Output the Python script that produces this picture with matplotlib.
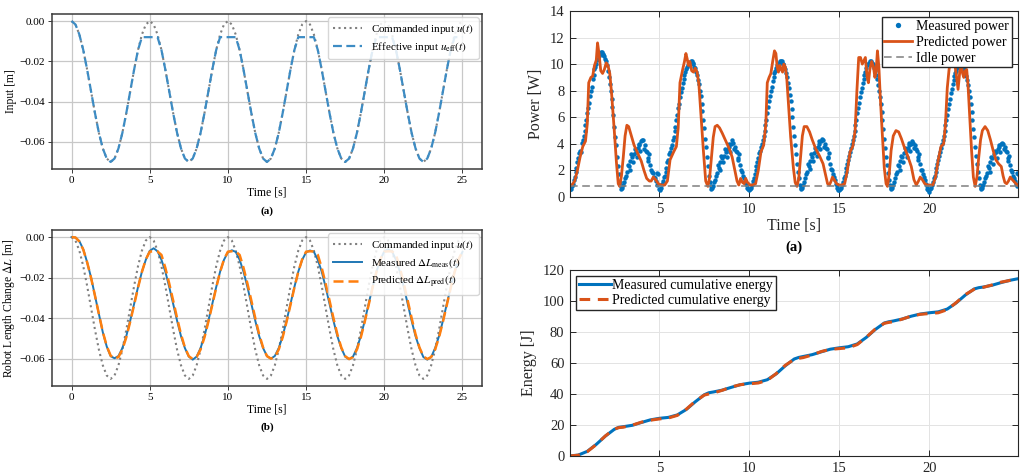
import numpy as np
import matplotlib.pyplot as plt
from matplotlib.ticker import FuncFormatter

plt.rcParams['font.family'] = ['Liberation Serif', 'DejaVu Serif']
plt.rcParams['mathtext.fontset'] = 'stix'

# ---- (a)/(b) left: input and robot length, sampled every 0.25 s ----
t_in = np.linspace(0, 25, 101)

u_cmd = [0.0, -0.0017, -0.0067, -0.0144, -0.0242, -0.0350, -0.0458, -0.0556, -0.0633, -0.0683,
         -0.0700, -0.0683, -0.0633, -0.0556, -0.0458, -0.0350, -0.0242, -0.0144, -0.0067, -0.0017,
         0.0, -0.0017, -0.0067, -0.0144, -0.0242, -0.0350, -0.0458, -0.0556, -0.0633, -0.0683,
         -0.0700, -0.0683, -0.0633, -0.0556, -0.0458, -0.0350, -0.0242, -0.0144, -0.0067, -0.0017,
         0.0, -0.0017, -0.0067, -0.0144, -0.0242, -0.0350, -0.0458, -0.0556, -0.0633, -0.0683,
         -0.0700, -0.0683, -0.0633, -0.0556, -0.0458, -0.0350, -0.0242, -0.0144, -0.0067, -0.0017,
         0.0, -0.0017, -0.0067, -0.0144, -0.0242, -0.0350, -0.0458, -0.0556, -0.0633, -0.0683,
         -0.0700, -0.0683, -0.0633, -0.0556, -0.0458, -0.0350, -0.0242, -0.0144, -0.0067, -0.0017,
         0.0, -0.0017, -0.0067, -0.0144, -0.0242, -0.0350, -0.0458, -0.0556, -0.0633, -0.0683,
         -0.0700, -0.0683, -0.0633, -0.0556, -0.0458, -0.0350, -0.0242, -0.0144, -0.0067, -0.0017,
         0.0]

u_eff = [0.0, -0.0017, -0.0067, -0.0144, -0.0242, -0.0350, -0.0458, -0.0556, -0.0633, -0.0683,
         -0.0700, -0.0683, -0.0633, -0.0556, -0.0458, -0.0350, -0.0242, -0.0144, -0.0080, -0.0080,
         -0.0080, -0.0080, -0.0080, -0.0144, -0.0242, -0.0350, -0.0458, -0.0556, -0.0633, -0.0683,
         -0.0700, -0.0683, -0.0633, -0.0556, -0.0458, -0.0350, -0.0242, -0.0144, -0.0080, -0.0080,
         -0.0080, -0.0080, -0.0080, -0.0144, -0.0242, -0.0350, -0.0458, -0.0556, -0.0633, -0.0683,
         -0.0700, -0.0683, -0.0633, -0.0556, -0.0458, -0.0350, -0.0242, -0.0144, -0.0080, -0.0080,
         -0.0080, -0.0080, -0.0080, -0.0144, -0.0242, -0.0350, -0.0458, -0.0556, -0.0633, -0.0683,
         -0.0700, -0.0683, -0.0633, -0.0556, -0.0458, -0.0350, -0.0242, -0.0144, -0.0080, -0.0080,
         -0.0080, -0.0080, -0.0080, -0.0144, -0.0242, -0.0350, -0.0458, -0.0556, -0.0633, -0.0683,
         -0.0700, -0.0683, -0.0633, -0.0556, -0.0458, -0.0350, -0.0242, -0.0144, -0.0080, -0.0080,
         -0.0080]

dl_meas = [0.0, -0.0002, -0.0020, -0.0060, -0.0125, -0.0200, -0.0290, -0.0380, -0.0470, -0.0540,
           -0.0588, -0.0598, -0.0587, -0.0548, -0.0489, -0.0413, -0.0330, -0.0247, -0.0171, -0.0112,
           -0.0068, -0.0055, -0.0070, -0.0112, -0.0171, -0.0247, -0.0330, -0.0413, -0.0489, -0.0548,
           -0.0590, -0.0605, -0.0590, -0.0548, -0.0489, -0.0413, -0.0330, -0.0247, -0.0171, -0.0112,
           -0.0075, -0.0065, -0.0073, -0.0112, -0.0171, -0.0247, -0.0330, -0.0413, -0.0489, -0.0548,
           -0.0587, -0.0600, -0.0587, -0.0548, -0.0489, -0.0413, -0.0330, -0.0247, -0.0171, -0.0112,
           -0.0075, -0.0066, -0.0073, -0.0112, -0.0171, -0.0247, -0.0330, -0.0413, -0.0489, -0.0548,
           -0.0590, -0.0603, -0.0590, -0.0548, -0.0489, -0.0413, -0.0330, -0.0247, -0.0171, -0.0112,
           -0.0070, -0.0060, -0.0072, -0.0112, -0.0171, -0.0247, -0.0330, -0.0413, -0.0489, -0.0548,
           -0.0592, -0.0605, -0.0592, -0.0548, -0.0489, -0.0413, -0.0330, -0.0247, -0.0171, -0.0112,
           -0.0073]

dl_pred = [0.0, -0.0002, -0.0022, -0.0062, -0.0125, -0.0202, -0.0290, -0.0380, -0.0468, -0.0538,
           -0.0585, -0.0600, -0.0592, -0.0555, -0.0495, -0.0418, -0.0335, -0.0250, -0.0172, -0.0110,
           -0.0072, -0.0070, -0.0071, -0.0088, -0.0152, -0.0230, -0.0314, -0.0400, -0.0480, -0.0545,
           -0.0588, -0.0602, -0.0592, -0.0555, -0.0495, -0.0418, -0.0335, -0.0250, -0.0172, -0.0110,
           -0.0072, -0.0070, -0.0071, -0.0088, -0.0152, -0.0230, -0.0314, -0.0400, -0.0480, -0.0545,
           -0.0588, -0.0600, -0.0592, -0.0555, -0.0495, -0.0418, -0.0335, -0.0250, -0.0172, -0.0110,
           -0.0072, -0.0070, -0.0071, -0.0088, -0.0152, -0.0230, -0.0314, -0.0400, -0.0480, -0.0545,
           -0.0588, -0.0602, -0.0592, -0.0555, -0.0495, -0.0418, -0.0335, -0.0250, -0.0172, -0.0110,
           -0.0072, -0.0070, -0.0071, -0.0088, -0.0152, -0.0230, -0.0314, -0.0400, -0.0480, -0.0545,
           -0.0588, -0.0602, -0.0592, -0.0555, -0.0495, -0.0418, -0.0335, -0.0250, -0.0172, -0.0110,
           -0.0072]

# ---- right (a): power, measured every 0.1 s (two interleaved sample sets) ----
p_meas_t = np.round(np.arange(250) * 0.1, 2)
p_meas = [0.5, 0.6, 1.0, 1.5, 2.2, 2.9, 3.5, 4.1, 4.6, 5.4, 6.3, 7.1, 8.0, 8.9, 9.6, 10.0, 10.4, 10.8, 10.9, 10.7,
          10.4, 9.9, 9.0, 8.0, 6.8, 5.3, 3.9, 2.3, 1.1, 0.6, 0.9, 1.4, 1.9, 2.3, 2.7, 3.0, 3.2, 3.4, 3.7, 3.9,
          4.2, 4.3, 3.9, 3.4, 2.9, 2.4, 1.9, 1.5, 1.2, 0.9,
          0.6, 0.7, 1.2, 1.6, 2.2, 2.8, 3.4, 3.9, 4.5, 5.3, 6.2, 7.0, 7.9, 8.6, 9.2, 9.6, 9.9, 10.1, 10.2, 10.0,
          9.7, 9.2, 8.5, 7.6, 6.5, 5.2, 3.8, 2.3, 1.1, 0.6, 0.8, 1.3, 1.8, 2.2, 2.6, 2.9, 3.1, 3.4, 3.6, 3.8,
          4.0, 4.1, 3.8, 3.4, 2.9, 2.4, 1.9, 1.4, 1.0, 0.7,
          0.5, 0.7, 1.2, 1.7, 2.3, 2.9, 3.5, 4.0, 4.6, 5.4, 6.3, 7.2, 8.0, 8.7, 9.3, 9.7, 10.0, 10.2, 10.2, 10.0,
          9.6, 9.0, 8.2, 7.2, 6.0, 4.6, 3.2, 1.9, 0.9, 0.6, 0.9, 1.4, 1.9, 2.3, 2.7, 3.0, 3.3, 3.5, 3.8, 4.0,
          4.2, 4.3, 4.0, 3.6, 3.0, 2.5, 2.0, 1.5, 1.0, 0.7,
          0.5, 0.7, 1.1, 1.6, 2.2, 2.8, 3.4, 4.0, 4.6, 5.4, 6.3, 7.1, 7.9, 8.6, 9.2, 9.7, 10.0, 10.2, 10.1, 9.9,
          9.5, 8.9, 8.0, 7.0, 5.8, 4.4, 3.0, 1.8, 0.9, 0.6, 0.9, 1.4, 1.9, 2.3, 2.7, 3.0, 3.3, 3.5, 3.7, 3.9,
          4.0, 4.1, 3.9, 3.5, 3.0, 2.5, 2.0, 1.5, 1.0, 0.6,
          0.4, 0.7, 1.1, 1.6, 2.2, 2.8, 3.4, 4.0, 4.6, 5.4, 6.2, 7.0, 7.8, 8.5, 9.1, 9.5, 9.8, 10.0, 10.0, 9.8,
          9.4, 8.8, 8.0, 7.0, 5.8, 4.5, 3.1, 1.9, 0.9, 0.6, 0.9, 1.4, 1.8, 2.2, 2.6, 2.9, 3.2, 3.4, 3.6, 3.8,
          4.0, 4.0, 3.8, 3.4, 2.9, 2.4, 1.9, 1.4, 1.0, 0.8]
p_meas2_t = np.round(np.arange(250) * 0.1 + 0.05, 2)
p_meas2 = [0.6, 0.8, 1.3, 1.9, 2.6, 3.3, 3.4, 4.3, 5.0, 5.8, 6.7, 7.6, 8.3, 9.2, 9.8, 10.3, 10.6, 10.9, 10.8, 10.6,
           10.2, 9.5, 8.5, 7.4, 6.2, 4.5, 3.0, 1.7, 0.8, 0.7, 1.1, 1.6, 2.4, 2.0, 3.2, 2.6, 3.6, 3.0, 4.0, 3.5,
           4.3, 3.6, 3.5, 2.7, 3.2, 2.0, 1.8, 1.4, 1.8, 1.7,
           0.5, 1.0, 1.5, 1.9, 2.6, 3.2, 3.7, 4.3, 5.0, 5.8, 6.7, 7.5, 8.2, 8.9, 9.4, 9.8, 10.0, 10.2, 10.1, 9.8,
           9.4, 8.8, 8.0, 7.0, 5.8, 4.4, 3.0, 1.6, 0.8, 0.7, 1.1, 1.6, 2.4, 2.0, 3.1, 2.6, 3.6, 3.0, 4.0, 3.4,
           4.3, 3.6, 3.5, 2.8, 3.2, 2.0, 1.6, 1.2, 0.9, 0.6,
           0.6, 0.9, 1.4, 2.0, 2.6, 3.3, 3.8, 4.3, 5.0, 5.8, 6.8, 7.6, 8.3, 9.0, 9.5, 9.9, 10.1, 10.2, 10.0, 9.8,
           9.3, 8.6, 7.7, 6.6, 5.3, 3.9, 2.5, 1.4, 0.7, 0.7, 1.1, 1.7, 2.5, 2.1, 3.2, 2.7, 3.7, 3.1, 4.2, 3.6,
           4.4, 3.8, 3.7, 2.9, 3.3, 2.1, 1.7, 1.3, 0.9, 0.5,
           0.6, 0.9, 1.4, 1.9, 2.5, 3.1, 3.7, 4.3, 5.0, 5.8, 6.7, 7.5, 8.2, 8.9, 9.4, 9.9, 10.1, 10.2, 10.0, 9.7,
           9.2, 8.4, 7.5, 6.4, 5.1, 3.7, 2.4, 1.3, 0.7, 0.7, 1.1, 1.7, 2.4, 2.0, 3.1, 2.6, 3.7, 3.0, 4.1, 3.5,
           4.2, 3.7, 3.6, 2.8, 3.2, 2.0, 1.7, 1.3, 0.8, 0.5,
           0.6, 0.9, 1.4, 1.9, 2.5, 3.1, 3.7, 4.3, 5.0, 5.8, 6.6, 7.4, 8.1, 8.8, 9.3, 9.7, 9.9, 10.0, 9.9, 9.6,
           9.1, 8.4, 7.5, 6.4, 5.1, 3.8, 2.5, 1.4, 0.7, 0.7, 1.1, 1.6, 2.3, 1.9, 3.0, 2.5, 3.5, 2.9, 3.9, 3.4,
           4.1, 3.6, 3.5, 2.7, 3.1, 2.0, 1.6, 1.2, 1.8, 1.7]

p_pred_t = [0.0, 0.15, 0.3, 0.45, 0.6, 0.75, 0.9, 1.0, 1.08, 1.2, 1.3, 1.4, 1.5, 1.57, 1.65, 1.75, 1.85, 1.95,
            2.05, 2.15, 2.25, 2.35, 2.5, 2.62, 2.72, 2.8, 2.9, 3.0, 3.1, 3.2, 3.3, 3.45, 3.6, 3.8, 4.0, 4.15,
            4.3, 4.45, 4.55, 4.67, 4.8, 4.95, 5.1, 5.3, 5.45, 5.6, 5.8, 5.95, 6.05, 6.15, 6.3, 6.4, 6.48, 6.55,
            6.62, 6.7, 6.8, 6.9, 7.0, 7.1, 7.2, 7.3, 7.45, 7.58, 7.7, 7.8, 7.9, 8.0, 8.1, 8.22, 8.35, 8.5, 8.7,
            8.9, 9.05, 9.2, 9.32, 9.42, 9.52, 9.62, 9.72, 9.8, 9.9, 10.05, 10.2, 10.35, 10.5, 10.65, 10.8,
            10.92, 11.0, 11.1, 11.2, 11.3, 11.4, 11.48, 11.55, 11.62, 11.7, 11.78, 11.85, 11.92, 12.0, 12.08,
            12.18, 12.3, 12.45, 12.55, 12.65, 12.75, 12.85, 12.95, 13.05, 13.2, 13.35, 13.5, 13.7, 13.9, 14.1,
            14.25, 14.35, 14.45, 14.55, 14.62, 14.72, 14.85, 15.0, 15.15, 15.3, 15.45, 15.6, 15.75, 15.88,
            15.98, 16.08, 16.18, 16.28, 16.38, 16.45, 16.55, 16.62, 16.7, 16.8, 16.9, 16.98, 17.05, 17.12,
            17.2, 17.28, 17.38, 17.5, 17.6, 17.68, 17.78, 17.88, 18.0, 18.15, 18.3, 18.45, 18.6, 18.8, 19.0,
            19.15, 19.28, 19.4, 19.5, 19.62, 19.75, 19.9, 20.05, 20.2, 20.35, 20.5, 20.65, 20.8, 20.9, 21.0,
            21.1, 21.2, 21.3, 21.4, 21.5, 21.6, 21.7, 21.78, 21.85, 21.92, 22.0, 22.08, 22.15, 22.25, 22.35,
            22.45, 22.55, 22.65, 22.75, 22.85, 22.95, 23.1, 23.25, 23.4, 23.55, 23.7, 23.85, 24.0, 24.1, 24.2,
            24.3, 24.4, 24.5, 24.62, 24.75, 24.9]
p_pred = [0.8, 0.9, 1.2, 2.0, 3.0, 3.8, 4.2, 5.5, 8.6, 9.0, 9.1, 9.9, 10.3, 11.6, 10.8, 9.5, 9.3, 9.6,
          10.1, 9.9, 9.3, 7.8, 5.0, 2.6, 1.0, 0.8, 1.6, 3.0, 4.6, 5.4, 5.3, 4.6, 3.9, 3.3, 2.7, 2.0,
          1.4, 1.2, 1.2, 1.5, 1.3, 1.0, 0.9, 0.9, 1.2, 2.8, 3.4, 3.8, 5.2, 8.6, 9.6, 10.2, 10.8, 10.4,
          9.9, 10.2, 9.5, 9.4, 9.7, 9.4, 8.5, 6.5, 3.5, 1.2, 0.8, 1.5, 3.0, 4.5, 5.3, 5.4, 5.2, 4.8, 4.2,
          3.6, 3.0, 2.0, 1.2, 0.9, 1.4, 1.1, 1.0, 1.4, 1.1, 0.9, 0.9, 1.0, 2.0, 3.4, 3.9,
          5.5, 8.6, 9.0, 9.3, 10.2, 11.0, 10.8, 9.8, 9.4, 9.9, 9.6, 9.4, 10.0, 9.8, 9.0,
          7.0, 4.5, 2.2, 1.1, 0.8, 1.4, 3.0, 4.6, 5.3, 5.3, 4.9, 4.3, 3.6, 3.1, 2.5,
          1.6, 1.0, 0.9, 1.2, 1.5, 1.3, 1.0, 0.9, 0.9, 1.0, 2.0, 3.4, 3.8, 5.0,
          8.0, 10.5, 10.5, 10.0, 10.3, 10.5, 9.0, 8.6, 9.6, 10.2, 9.8, 9.0, 9.5, 11.0,
          9.8, 7.5, 5.0, 2.2, 1.0, 0.8, 1.8, 3.5, 4.6, 5.0, 4.9, 4.4, 3.8, 3.1, 2.3,
          1.3, 0.9, 1.2, 1.5, 1.3, 1.0, 0.9, 0.9, 0.9, 1.5, 2.8, 3.8, 4.0, 5.5, 8.2,
          9.6, 10.3, 11.0, 10.2, 9.2, 8.1, 9.5, 10.0, 9.3, 9.0, 9.5, 9.6, 8.5, 6.0, 3.5,
          1.5, 0.8, 1.5, 3.0, 4.3, 5.0, 5.3, 5.0, 4.3, 3.5, 2.8, 2.5, 2.3, 1.6, 1.1,
          1.0, 1.2, 1.5, 1.3, 1.1, 0.9]
idle_power = 0.8

# ---- right (b): cumulative energy ----
e_t = [0, 0.5, 1.0, 1.5, 2.0, 2.5, 2.75, 3.0, 3.5, 4.0, 4.5, 5.0, 5.5, 6.0, 6.5, 7.0, 7.5, 7.75, 8.0, 8.5,
       9.0, 9.5, 10.0, 10.5, 11.0, 11.5, 12.0, 12.5, 12.75, 13.0, 13.5, 14.0, 14.5, 15.0, 15.5, 16.0, 16.5,
       17.0, 17.5, 17.75, 18.0, 18.5, 19.0, 19.5, 20.0, 20.5, 21.0, 21.5, 22.0, 22.5, 22.75, 23.0, 23.5,
       24.0, 24.5, 24.9]
e_meas = [0, 0.6, 3.0, 7.5, 12.8, 17.2, 18.5, 18.9, 19.8, 21.6, 23.3, 24.3, 24.9, 26.5, 30.0, 35.0, 39.5,
          40.8, 41.3, 42.5, 44.3, 46.0, 47.0, 47.6, 49.2, 53.0, 58.2, 62.6, 63.6, 64.2, 65.4, 67.2, 68.9,
          69.8, 70.5, 72.3, 76.5, 81.6, 85.8, 86.6, 87.1, 88.4, 90.2, 91.6, 92.4, 93.0, 94.8, 98.8, 103.8,
          107.8, 108.6, 109.0, 110.2, 111.9, 113.4, 114.3]
e_pred = [0, 0.5, 2.8, 7.4, 12.9, 17.4, 18.3, 18.6, 19.9, 21.8, 23.1, 23.9, 24.5, 26.2, 30.2, 35.3, 39.3,
          40.0, 40.6, 42.4, 44.5, 46.0, 46.6, 47.1, 48.8, 53.2, 58.5, 62.4, 63.0, 63.5, 65.2, 67.4, 68.8,
          69.3, 69.8, 71.9, 76.6, 81.9, 85.6, 86.2, 86.6, 88.3, 90.3, 91.4, 91.9, 92.4, 94.4, 99.0, 104.1,
          107.6, 108.3, 108.8, 110.4, 112.2, 113.3, 114.0]

ML_BLUE = '#0072BD'
ML_ORANGE = '#D95319'

fig = plt.figure(figsize=(10.27, 4.76), dpi=100)
W, H = 1027, 476


def px_axes(x0, y0, x1, y1):
    return fig.add_axes([x0 / W, 1 - y1 / H, (x1 - x0) / W, (y1 - y0) / H])


minus_fmt = FuncFormatter(lambda v, pos: f'{v:.2f}'.replace('-', '\u2212') if abs(v) > 1e-9 else '0.00')


def style_left(ax, ylabel):
    ax.grid(True, color='#c8c8c8', lw=0.9)
    ax.set_axisbelow(True)
    for s in ax.spines.values():
        s.set_color('#3a3a3a')
        s.set_linewidth(1.1)
    ax.tick_params(labelsize=8, length=3, width=0.7, color='#3a3a3a', pad=2)
    ax.set_xticks([0, 5, 10, 15, 20, 25])
    ax.set_yticks([0, -0.02, -0.04, -0.06])
    ax.yaxis.set_major_formatter(minus_fmt)
    ax.set_xlabel('Time [s]', fontsize=8.5, labelpad=1)
    ax.set_ylabel(ylabel, fontsize=8.3, labelpad=2)
    ax.legend(loc='upper right', fontsize=8, framealpha=0.85, edgecolor='#d0d0d0',
              handlelength=2.6, borderpad=0.45, labelspacing=0.35, borderaxespad=0.3)


# (a) left top
ax1 = px_axes(52, 14, 482, 169)
ax1.plot(t_in, u_cmd, ':', color='grey', lw=1.5, label='Commanded input $u(t)$')
ax1.plot(t_in, u_eff, '--', color='#3d8cc4', lw=1.6, dashes=(4, 2), label=r'Effective input $u_{\mathrm{eff}}(t)$')
style_left(ax1, 'Input [m]')
fig.text(267 / W, 1 - 211 / H, '(a)', ha='center', va='center', fontsize=8, fontweight='bold')

# (b) left bottom
ax2 = px_axes(52, 230, 482, 386)
ax2.plot(t_in, u_cmd, ':', color='grey', lw=1.5, label='Commanded input $u(t)$')
ax2.plot(t_in, dl_meas, '-', color='#1f77b4', lw=1.4, label=r'Measured $\Delta L_{\mathrm{meas}}(t)$')
ax2.plot(t_in, dl_pred, '--', color='#ff7f0e', lw=1.8, dashes=(4, 2), label=r'Predicted $\Delta L_{\mathrm{pred}}(t)$')
style_left(ax2, r'Robot Length Change $\Delta L$ [m]')
fig.text(267 / W, 1 - 427 / H, '(b)', ha='center', va='center', fontsize=8, fontweight='bold')


def style_right(ax):
    ax.grid(True, color='#e3e3e3', lw=0.7)
    ax.set_axisbelow(True)
    for s in ax.spines.values():
        s.set_color('#262626')
        s.set_linewidth(0.8)
    ax.tick_params(direction='in', top=True, right=True, labelsize=10.5, length=4,
                   width=0.7, color='#262626', labelcolor='#262626', pad=4)
    ax.set_xlim(0.04, 24.93)
    ax.set_xticks([5, 10, 15, 20])


# power
ax3 = px_axes(570, 11, 1018, 197)
ax3.plot(p_meas_t, p_meas, 'o', color=ML_BLUE, ms=3.2, mec='none', label='Measured power')
ax3.plot(p_meas2_t, p_meas2, 'o', color=ML_BLUE, ms=3.2, mec='none')
ax3.plot(p_pred_t, p_pred, '-', color=ML_ORANGE, lw=2.0, label='Predicted power')
ax3.axhline(idle_power, color='#7f7f7f', ls='--', lw=1.1, dashes=(5, 3), label='Idle power')
style_right(ax3)
ax3.set_ylim(0, 14)
ax3.set_yticks(range(0, 15, 2))
ax3.set_xlabel('Time [s]', fontsize=11.5, color='#262626', labelpad=2)
ax3.set_ylabel('Power [W]', fontsize=11.5, color='#262626', labelpad=4)
ax3.legend(loc='upper right', fontsize=10, fancybox=False, edgecolor='#262626', framealpha=1,
           borderpad=0.2, labelspacing=0.2, handlelength=2.0, handletextpad=0.3,
           borderaxespad=0.45, numpoints=1, markerscale=1.2)
fig.text(794 / W, 1 - 247 / H, '(a)', ha='center', va='center', fontsize=10.5, fontweight='bold')

# energy
ax4 = px_axes(570, 270, 1018, 456)
ax4.plot(e_t, e_meas, '-', color=ML_BLUE, lw=2.2, label='Measured cumulative energy')
ax4.plot(e_t, e_pred, '--', color=ML_ORANGE, lw=2.2, dashes=(3.5, 2.5), label='Predicted cumulative energy')
style_right(ax4)
ax4.set_ylim(0, 120)
ax4.set_yticks(range(0, 121, 20))
ax4.set_ylabel('Energy [J]', fontsize=11.5, color='#262626', labelpad=4)
ax4.legend(loc='upper left', fontsize=10, fancybox=False, edgecolor='#262626', framealpha=1,
           borderpad=0.2, labelspacing=0.15, handlelength=2.3, handletextpad=0.1,
           borderaxespad=0.45)

fig.savefig('out.png', dpi=100)
